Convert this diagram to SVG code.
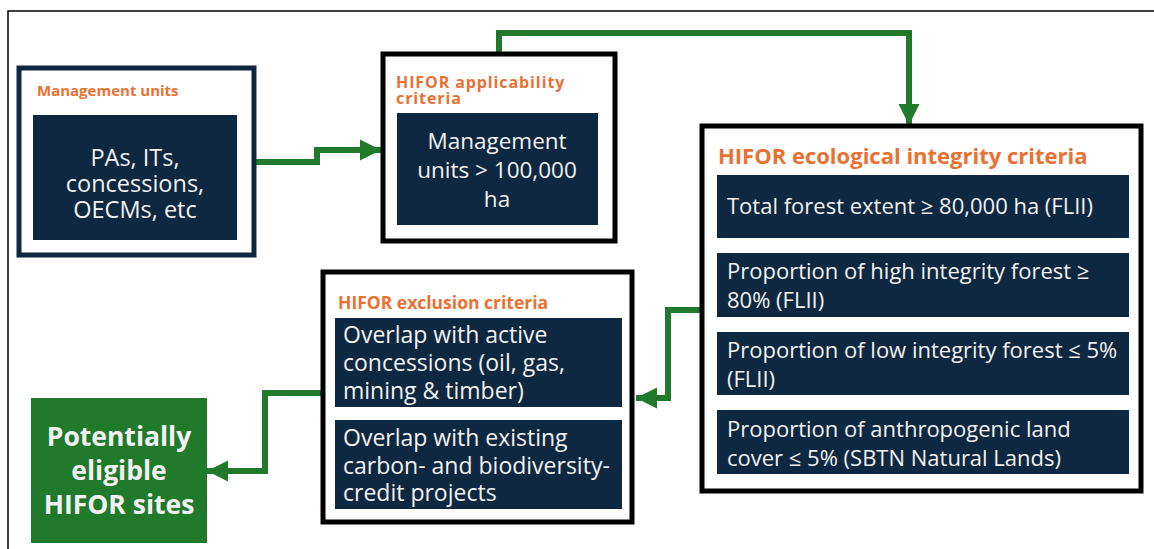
<svg xmlns="http://www.w3.org/2000/svg" width="1154" height="549" viewBox="0 0 1154 549">
<defs>
<style>
.frame{fill:#fff;stroke:#000;stroke-width:5}
.inner{fill:#0e2841}
.ttl{font-family:"Open Sans","Liberation Sans",sans-serif;font-weight:700;fill:#e97132}
.txt{font-family:"Open Sans","Liberation Sans",sans-serif;fill:#f2f2f2}
.conn{fill:none;stroke:#217a2c;stroke-width:6}
</style>
<marker id="ah" viewBox="0 0 10 10" refX="10" refY="5" markerWidth="3.5" markerHeight="3.6" orient="auto" markerUnits="strokeWidth">
<path d="M0,0 L10,5 L0,10 z" fill="#217a2c"/>
</marker>
</defs>
<rect width="1154" height="549" fill="#fff"/>
<path d="M8,549 V11 H1154" fill="none" stroke="#000" stroke-width="1.5"/>

<g id="connectors">
<path class="conn" d="M255,162 H317 V150 H381" marker-end="url(#ah)"/>
<path class="conn" d="M499,52 V33 H909 V125" marker-end="url(#ah)"/>
<path class="conn" d="M700,310 H668 V398 H636" marker-end="url(#ah)"/>
<path class="conn" d="M321,393 H265 V471 H207" marker-end="url(#ah)"/>
</g>

<g id="management-units">
<rect x="19" y="68" width="235" height="187" fill="#fff" stroke="#0e2841" stroke-width="5"/>
<text class="ttl" x="37" y="96" font-size="15">Management units</text>
<rect class="inner" x="33" y="115" width="204" height="125"/>
<text class="txt" font-size="23.5" text-anchor="middle"><tspan x="135" y="166">PAs, ITs,</tspan><tspan x="135" y="192">concessions,</tspan><tspan x="135" y="218">OECMs, etc</tspan></text>
</g>

<g id="applicability">
<rect class="frame" x="383" y="54" width="232" height="187"/>
<text class="ttl" font-size="16" letter-spacing="0.9"><tspan x="396" y="88">HIFOR applicability</tspan><tspan x="396" y="104">criteria</tspan></text>
<rect class="inner" x="397" y="113" width="201" height="112"/>
<text class="txt" font-size="22.5" text-anchor="middle"><tspan x="497" y="149">Management</tspan><tspan x="497" y="178">units &gt; 100,000</tspan><tspan x="497" y="207">ha</tspan></text>
</g>

<g id="ecological">
<rect class="frame" x="702" y="126" width="439" height="365"/>
<text class="ttl" x="718" y="164" font-size="22">HIFOR ecological integrity criteria</text>
<rect class="inner" x="717" y="175" width="412" height="63"/>
<text class="txt" x="727" y="214" font-size="22">Total forest extent ≥ 80,000 ha (FLII)</text>
<rect class="inner" x="717" y="253" width="412" height="64"/>
<text class="txt" font-size="22"><tspan x="727" y="279">Proportion of high integrity forest ≥</tspan><tspan x="727" y="308">80% (FLII)</tspan></text>
<rect class="inner" x="717" y="332" width="412" height="63"/>
<text class="txt" font-size="22"><tspan x="727" y="358">Proportion of low integrity forest ≤ 5%</tspan><tspan x="727" y="387">(FLII)</tspan></text>
<rect class="inner" x="717" y="410" width="412" height="64"/>
<text class="txt" font-size="22"><tspan x="727" y="437">Proportion of anthropogenic land</tspan><tspan x="727" y="466">cover ≤ 5% (SBTN Natural Lands)</tspan></text>
</g>

<g id="exclusion">
<rect class="frame" x="323" y="272" width="309" height="250"/>
<text class="ttl" x="338" y="309" font-size="17.5">HIFOR exclusion criteria</text>
<rect class="inner" x="335" y="318" width="287" height="89"/>
<text class="txt" font-size="23"><tspan x="343" y="343">Overlap with active</tspan><tspan x="343" y="371">concessions (oil, gas,</tspan><tspan x="343" y="399">mining &amp; timber)</tspan></text>
<rect class="inner" x="335" y="420" width="287" height="89"/>
<text class="txt" font-size="23"><tspan x="343" y="446">Overlap with existing</tspan><tspan x="343" y="474">carbon- and biodiversity-</tspan><tspan x="343" y="501">credit projects</tspan></text>
</g>

<g id="eligible">
<rect x="31" y="398" width="176" height="145" fill="#217a2c"/>
<text font-family="'Open Sans','Liberation Sans',sans-serif" font-weight="700" font-size="26.5" fill="#f2f2f2" text-anchor="middle"><tspan x="119" y="446">Potentially</tspan><tspan x="119" y="480">eligible</tspan><tspan x="119" y="514">HIFOR sites</tspan></text>
</g>
</svg>
